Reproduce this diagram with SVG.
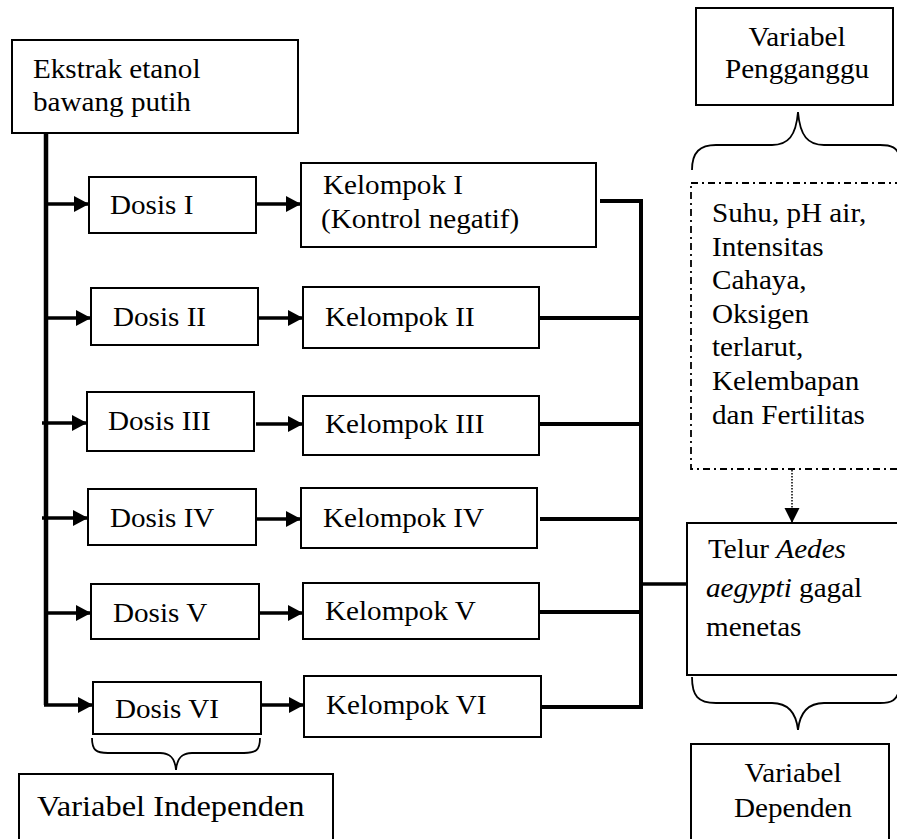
<svg xmlns="http://www.w3.org/2000/svg" width="897" height="839" viewBox="0 0 897 839">
<defs>
<style>
.box{fill:#fff;stroke:#000;stroke-width:2}
.t{font-family:"Liberation Serif","Times New Roman",serif;font-size:26.5px;fill:#000}
.big{font-size:29.5px}
.i{font-style:italic}
.c{text-anchor:middle}
.thick{fill:none;stroke:#000;stroke-width:4}
.arr{fill:none;stroke:#000;stroke-width:3.5;marker-end:url(#ah)}
.brace{fill:none;stroke:#000;stroke-width:1.8}
.dashbox{fill:none;stroke:#000;stroke-width:1.8;stroke-dasharray:7 4 2 4}
</style>
<marker id="ah" markerUnits="userSpaceOnUse" markerWidth="16" markerHeight="16" refX="15" refY="8" orient="auto">
<path d="M0 0 L15 8 L0 16 Z" fill="#000"/>
</marker>
<marker id="ahd" markerUnits="userSpaceOnUse" markerWidth="16" markerHeight="16" refX="15" refY="7.5" orient="auto">
<path d="M0 0 L15 7.5 L0 15 Z" fill="#000"/>
</marker>
</defs>
<rect width="897" height="839" fill="#fff"/>

<g id="connectors">
<path class="thick" d="M46 133 V705" style="stroke-width:4.5"/>
<path class="arr" d="M44 204 H89"/>
<path class="arr" d="M44 318 H91"/>
<path class="arr" d="M42 423 H87"/>
<path class="arr" d="M42 518 H88"/>
<path class="arr" d="M44 613 H91"/>
<path class="arr" d="M44 705 H93"/>
<path class="arr" d="M257 204 H301"/>
<path class="arr" d="M259 318 H303"/>
<path class="arr" d="M256 424 H303"/>
<path class="arr" d="M257 519 H301"/>
<path class="arr" d="M260 613 H303"/>
<path class="arr" d="M262 705 H304"/>
<path class="thick" d="M600 201 H641 V707 H541"/>
<path class="thick" d="M539 318 H641"/>
<path class="thick" d="M537 424 H641"/>
<path class="thick" d="M540 519 H641"/>
<path class="thick" d="M539 612 H641"/>
<path class="thick" d="M641 584 H691" style="stroke-width:3.5"/>
<path d="M792 470 V523" fill="none" stroke="#000" stroke-width="1.5" stroke-dasharray="1.5 1.5" marker-end="url(#ahd)"/>
<path class="brace" d="M92 738 C92 750 96 753 108 753 H160 C170 753 175 758 176 770 C177 758 182 753 192 753 H244 C256 753 260 750 260 738"/>
<path class="brace" d="M692 677 C692 696 698 703 716 703 H772 C788 703 796 712 798 730 C800 712 808 703 824 703 H880 C892 703 897 700 899 690"/>
<path class="brace" d="M692 170 C692 152 700 145 716 145 H772 C788 145 796 136 798 112 C800 136 808 145 824 145 H880 C892 145 897 148 899 155"/>
</g>

<g id="ekstrak">
<rect class="box" x="12" y="40" width="286" height="93"/>
<text class="t" transform="translate(33 78) scale(1.1 1)">Ekstrak etanol</text>
<text class="t" transform="translate(33 111) scale(1.1 1)">bawang putih</text>
</g>

<g id="dosis1"><rect class="box" x="89" y="177" width="167" height="56"/><text class="t" transform="translate(110 214) scale(1.1 1)">Dosis I</text></g>
<g id="dosis2"><rect class="box" x="91" y="288" width="167" height="57"/><text class="t" transform="translate(113 326) scale(1.1 1)">Dosis II</text></g>
<g id="dosis3"><rect class="box" x="87" y="392" width="167" height="59"/><text class="t" transform="translate(108 430) scale(1.1 1)">Dosis III</text></g>
<g id="dosis4"><rect class="box" x="88" y="489" width="168" height="56"/><text class="t" transform="translate(110 527) scale(1.1 1)">Dosis IV</text></g>
<g id="dosis5"><rect class="box" x="91" y="584" width="168" height="55"/><text class="t" transform="translate(113 622) scale(1.1 1)">Dosis V</text></g>
<g id="dosis6"><rect class="box" x="93" y="682" width="168" height="52"/><text class="t" transform="translate(115 718) scale(1.1 1)">Dosis VI</text></g>

<g id="kelompok1"><rect class="box" x="301" y="163" width="295" height="84"/>
<text class="t" transform="translate(323 194) scale(1.1 1)">Kelompok I</text>
<text class="t" transform="translate(321 228) scale(1.1 1)">(Kontrol negatif)</text></g>
<g id="kelompok2"><rect class="box" x="303" y="287" width="236" height="61"/><text class="t" transform="translate(325 326) scale(1.1 1)">Kelompok II</text></g>
<g id="kelompok3"><rect class="box" x="303" y="396" width="236" height="59"/><text class="t" transform="translate(325 433) scale(1.1 1)">Kelompok III</text></g>
<g id="kelompok4"><rect class="box" x="301" y="488" width="236" height="60"/><text class="t" transform="translate(323 527) scale(1.1 1)">Kelompok IV</text></g>
<g id="kelompok5"><rect class="box" x="303" y="583" width="236" height="56"/><text class="t" transform="translate(325 620) scale(1.1 1)">Kelompok V</text></g>
<g id="kelompok6"><rect class="box" x="304" y="676" width="237" height="61"/><text class="t" transform="translate(326 714) scale(1.1 1)">Kelompok VI</text></g>

<g id="pengganggu"><rect class="box" x="696" y="8" width="197" height="97"/>
<text class="t c" transform="translate(797 46) scale(1.1 1)">Variabel</text>
<text class="t c" transform="translate(797 78) scale(1.1 1)">Pengganggu</text></g>

<g id="faktor"><rect class="dashbox" x="691" y="183" width="215" height="286"/>
<text class="t" transform="translate(712 222) scale(1.1 1)">Suhu, pH air,</text>
<text class="t" transform="translate(712 256) scale(1.1 1)">Intensitas</text>
<text class="t" transform="translate(712 289) scale(1.1 1)">Cahaya,</text>
<text class="t" transform="translate(712 323) scale(1.1 1)">Oksigen</text>
<text class="t" transform="translate(712 356) scale(1.1 1)">terlarut,</text>
<text class="t" transform="translate(712 390) scale(1.1 1)">Kelembapan</text>
<text class="t" transform="translate(712 424) scale(1.1 1)">dan Fertilitas</text></g>

<g id="telur"><rect class="box" x="687" y="523" width="220" height="152"/>
<text class="t" transform="translate(708 558) scale(1.1 1)">Telur <tspan class="i">Aedes</tspan></text>
<text class="t" transform="translate(706 597) scale(1.1 1)"><tspan class="i">aegypti</tspan> gagal</text>
<text class="t" transform="translate(706 636) scale(1.1 1)">menetas</text></g>

<g id="independen"><rect class="box" x="19" y="774" width="314" height="80"/>
<text class="t big" transform="translate(37 816) scale(1.1 1)">Variabel Independen</text></g>

<g id="dependen"><rect class="box" x="691" y="744" width="198" height="110"/>
<text class="t c" transform="translate(793 782) scale(1.1 1)">Variabel</text>
<text class="t c" transform="translate(793 817) scale(1.1 1)">Dependen</text></g>
</svg>
